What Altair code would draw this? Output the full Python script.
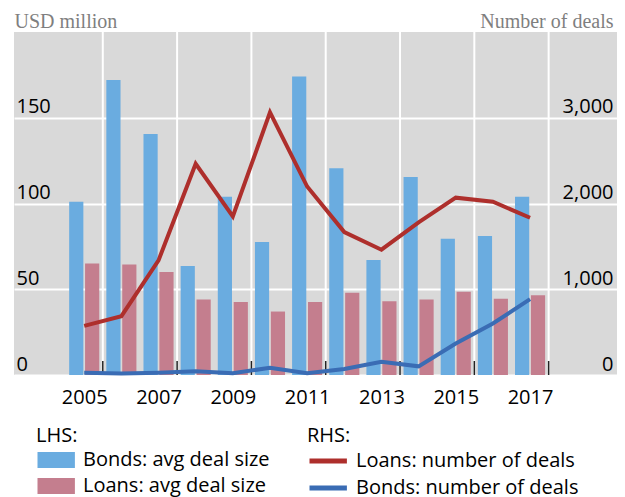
import altair as alt
import pandas as pd

years = list(range(2005, 2018))
bonds_avg_size = [101, 172, 140.5, 63.5, 104, 77.5, 174, 120.5, 67, 115.5, 79.5, 81, 104]
loans_avg_size = [65, 64.5, 60, 44, 42.5, 37, 42.5, 48, 43, 44, 48.5, 44.5, 46.5]
loans_num_deals = [573, 686, 1337, 2463, 1849, 3062, 2198, 1667, 1461, 1781, 2068, 2020, 1834]
bonds_num_deals = [27, 17, 27, 43, 20, 85, 20, 70, 155, 101, 368, 601, 884]

bar_series = ["Bonds: avg deal size", "Loans: avg deal size"]
line_series = ["Loans: number of deals", "Bonds: number of deals"]
label_years = [2005, 2007, 2009, 2011, 2013, 2015, 2017]
boundaries = [y + 0.5 for y in label_years]

BLUE_BAR = "#6aace0"
PINK_BAR = "#c47e8e"
RED_LINE = "#ae2f2c"
BLUE_LINE = "#3a6cb4"

bars_df = pd.DataFrame(
    {"year": years * 2,
     "series": [bar_series[0]] * len(years) + [bar_series[1]] * len(years),
     "value": bonds_avg_size + loans_avg_size}
)
lines_df = pd.DataFrame(
    {"year": years * 2,
     "series": [line_series[0]] * len(years) + [line_series[1]] * len(years),
     "value": loans_num_deals + bonds_num_deals}
)
bound_df = pd.DataFrame({"b": boundaries})

W, H = 603, 343
xscale = alt.Scale(domain=[2003.11, 2019.34], nice=False, zero=False)
FONT = "Open Sans"

xaxis = alt.Axis(values=label_years, labelExpr="format(datum.value, 'd')", title=None,
                 grid=False, ticks=False, tickSize=0, domain=False, labelFont=FONT,
                 labelFontSize=20, labelColor="black", labelBaseline="alphabetic",
                 labelPadding=28)

vgrid = alt.Chart(bound_df).mark_rule(color="white", strokeWidth=2).encode(
    x=alt.X("b:Q", scale=xscale, axis=xaxis),
    y=alt.value(0), y2=alt.value(H),
)
ticks = alt.Chart(bound_df).mark_rule(color="#222222", strokeWidth=1.5).encode(
    x=alt.X("b:Q", scale=xscale, axis=xaxis),
    y=alt.value(H - 14), y2=alt.value(H),
)

bars = alt.Chart(bars_df).transform_calculate(
    x0=f"datum.year + (datum.series == '{bar_series[0]}' ? -0.405 : 0.023)",
    x1=f"datum.year + (datum.series == '{bar_series[0]}' ? -0.023 : 0.405)",
).mark_rect().encode(
    x=alt.X("x0:Q", scale=xscale, axis=xaxis),
    x2="x1:Q",
    y=alt.Y("value:Q", scale=alt.Scale(domain=[0, 200], nice=False),
            axis=alt.Axis(orient="left", values=[0, 50, 100, 150], title="USD million",
                          labelExpr="format(datum.value, 'd')",
                          titleAngle=0, titleAlign="left", titleBaseline="alphabetic",
                          titleX=0, titleY=-5, titleFont="Liberation Serif",
                          titleFontSize=20, titleFontWeight="normal", titleColor="#7f7f7f",
                          grid=True, gridColor="white", gridWidth=2, ticks=False,
                          tickSize=0, domain=False, labelAlign="left", labelPadding=-2,
                          labelBaseline="alphabetic", labelOffset=-5, labelFont=FONT,
                          labelFontSize=20, labelColor="black")),
    y2=alt.datum(0),
    color=alt.Color("series:N", scale=alt.Scale(domain=bar_series, range=[BLUE_BAR, PINK_BAR]),
                    legend=alt.Legend(title="LHS:", orient="none", legendX=22, legendY=394,
                                      symbolType="M-1,-0.95H3.4V0.95H-1Z", symbolSize=289,
                                      symbolStrokeWidth=0, symbolOpacity=1, labelOffset=27,
                                      rowPadding=6, labelLimit=0)),
)

lines = alt.Chart(lines_df).mark_line(strokeWidth=4).encode(
    x=alt.X("year:Q", scale=xscale, axis=xaxis),
    y=alt.Y("value:Q", scale=alt.Scale(domain=[0, 4000], nice=False),
            axis=alt.Axis(orient="right", values=[0, 1000, 2000, 3000],
                          labelExpr="format(datum.value, ',')",
                          title="Number of deals", titleAngle=0, titleAlign="right",
                          titleBaseline="alphabetic", titleX=-4, titleY=-5,
                          titleFont="Liberation Serif", titleFontSize=20,
                          titleFontWeight="normal", titleColor="#7f7f7f",
                          grid=False, ticks=False, tickSize=0, domain=False,
                          labelAlign="right", labelPadding=-4, labelBaseline="alphabetic",
                          labelOffset=-5, labelFont=FONT, labelFontSize=20,
                          labelColor="black")),
    stroke=alt.Stroke("series:N", scale=alt.Scale(domain=line_series, range=[RED_LINE, BLUE_LINE]),
                      legend=alt.Legend(title="RHS:", orient="none", legendX=293, legendY=394,
                                        symbolType="M-1,0H3.4", symbolSize=289,
                                        symbolStrokeWidth=5, labelOffset=27, rowPadding=6,
                                        labelLimit=0)),
    detail="series:N",
)

chart = alt.layer(vgrid, bars, ticks, lines).resolve_scale(
    y="independent", color="independent", stroke="independent"
).properties(
    width=W, height=H,
    autosize=alt.AutoSizeParams(type="none"),
    padding={"left": 6, "top": 24, "right": 0, "bottom": 130},
).configure_view(fill="#d9d9d9", stroke=None).configure_legend(
    labelFont=FONT, labelFontSize=20, labelColor="black",
    titleFont=FONT, titleFontSize=20, titleFontWeight="normal", titleColor="black",
    titlePadding=4,
)

chart.save("out.html", embed_options={"renderer": "svg", "actions": False})
